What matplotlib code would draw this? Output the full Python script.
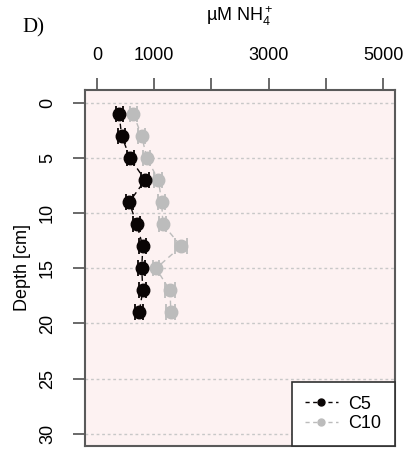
import matplotlib
matplotlib.use("Agg")
import matplotlib.pyplot as plt
from matplotlib.lines import Line2D

plt.rcParams['font.family'] = ['Liberation Sans', 'DejaVu Sans']
plt.rcParams['mathtext.fontset'] = 'custom'
plt.rcParams['mathtext.rm'] = 'Liberation Sans'
plt.rcParams['mathtext.it'] = 'Liberation Sans:italic'

# porewater ammonium profiles, two cores
depth = [1, 3, 5, 7, 9, 11, 13, 15, 17, 19]
c5_nh4 = [385, 430, 577, 840, 560, 694, 800, 780, 800, 735]
c5_err = [60, 60, 60, 70, 60, 60, 60, 60, 60, 70]
c10_nh4 = [635, 780, 870, 1072, 1130, 1150, 1470, 1030, 1275, 1290]
c10_err = [60, 60, 60, 70, 60, 60, 108, 60, 85, 80]

x_ticks = [0, 1000, 2000, 3000, 4000, 5000]
x_labels = ['0', '1000', '', '3000', '', '5000']
y_ticks = [0, 5, 10, 15, 20, 25, 30]

black = '#0a0505'
grey = '#bcbcbc'

fig = plt.figure(figsize=(4.09, 4.49), dpi=100)
ax = fig.add_axes([0.208, 0.007, 0.758, 0.793])
ax.set_facecolor('#fdf2f2')

for y in y_ticks:
    ax.axhline(y, color='#c8c8c8', lw=1.0, ls=(0, (2, 2)), zorder=0)

ax.errorbar(c10_nh4, depth, xerr=c10_err, color=grey, ecolor=grey,
            marker='o', ms=9, ls=(0, (4, 3)), lw=1.0, capsize=6,
            elinewidth=1.3, capthick=1.3, zorder=2)
ax.errorbar(c5_nh4, depth, xerr=c5_err, color=black, ecolor=black,
            marker='o', ms=9, ls=(0, (4, 3)), lw=1.0, capsize=6,
            elinewidth=1.3, capthick=1.3, zorder=3)

ax.set_xlim(-210, 5210)
ax.set_ylim(31.1, -1.2)

ax.xaxis.tick_top()
ax.set_xticks(x_ticks)
ax.set_xticklabels(x_labels)
ax.set_yticks(y_ticks)
ax.set_yticklabels([str(v) for v in y_ticks], rotation=90, va='center')
ax.tick_params(axis='x', length=8.5, width=1.2, color='#505050', pad=10,
               labelsize=13)
ax.tick_params(axis='y', length=9, width=1.2, color='#505050', pad=12,
               labelsize=13)

for s in ax.spines.values():
    s.set_color('#5a5a5a')
    s.set_linewidth(1.5)

ax.set_ylabel('Depth [cm]', fontsize=13, labelpad=6)

fig.text(0.587, 0.965, r'µM NH$_4^+$', ha='center', va='center', fontsize=13)
fig.text(0.055, 0.937, 'D)', family='Liberation Serif', fontsize=15,
         ha='left', va='center')

handles = [
    Line2D([], [], color=black, marker='o', ms=5, ls=(0, (3, 2.5)), lw=1.0),
    Line2D([], [], color=grey, marker='o', ms=5, ls=(0, (3, 2.5)), lw=1.0),
]
leg = ax.legend(handles, ['C5', 'C10'], loc='lower right', fontsize=13,
                frameon=True, fancybox=False, borderaxespad=0,
                handlelength=1.8, borderpad=0.75, labelspacing=0.15,
                handletextpad=0.6)
leg.get_frame().set_edgecolor('#303030')
leg.get_frame().set_linewidth(1.2)
leg.get_frame().set_facecolor('white')
leg.get_frame().set_alpha(1)

fig.savefig('out.png', dpi=100)
